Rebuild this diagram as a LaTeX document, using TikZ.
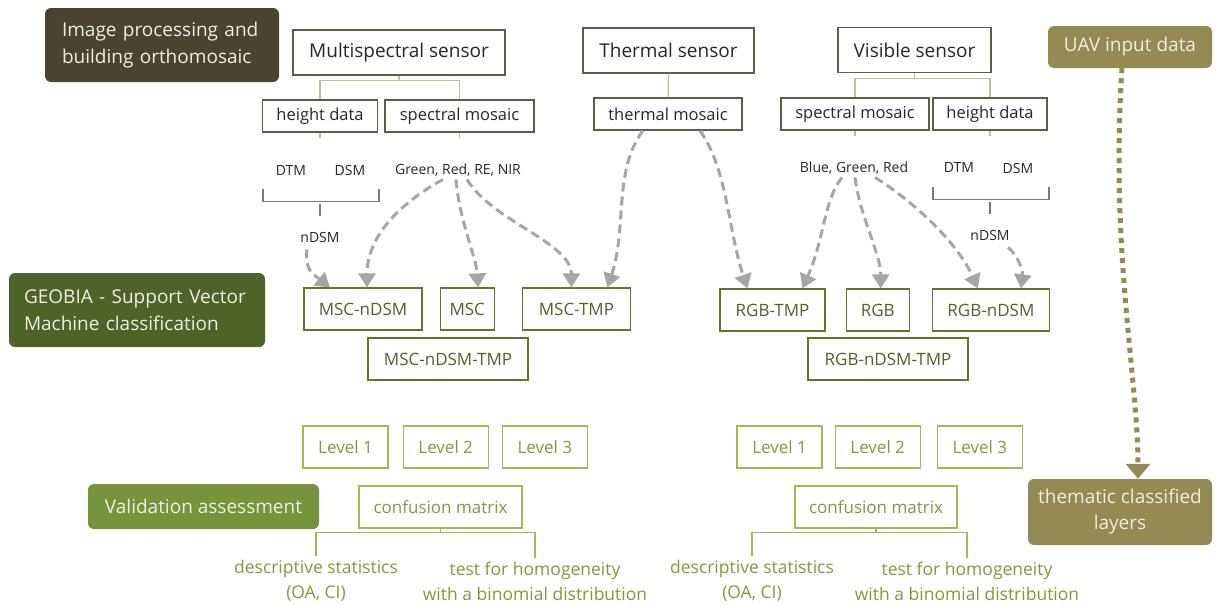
\documentclass[tikz,border=0pt]{standalone}
\usepackage{fontspec}
\setmainfont{Open Sans}
\usetikzlibrary{arrows.meta, positioning}

\definecolor{darkbrown}{HTML}{4A4330}
\definecolor{geobiagreen}{HTML}{4F6228}
\definecolor{validgreen}{HTML}{77933C}
\definecolor{uavtan}{HTML}{948A54}
\definecolor{headtext}{HTML}{EEEEE4}
\definecolor{boxgray}{HTML}{5E5B47}
\definecolor{linetan}{HTML}{C4BD97}
\definecolor{mscgreen}{HTML}{5F7530}
\definecolor{msctext}{HTML}{4F6228}
\definecolor{levelgreen}{HTML}{9BBB59}
\definecolor{leveltext}{HTML}{7F9A3C}
\definecolor{arrowgray}{HTML}{A6A6A6}

\begin{document}
\begin{tikzpicture}[x=1pt,y=-1pt]
\useasboundingbox (0,0) rectangle (1220,605);
% Shapes used in the flow chart
\tikzstyle{head_box} = [rectangle, rounded corners=6pt, inner sep=0pt, text=headtext, font=\fontsize{19}{27}\selectfont]
\tikzstyle{sensor_box} = [rectangle, draw=boxgray, line width=1.2pt, inner sep=0pt, minimum height=45pt, text=black!85, font=\fontsize{19}{24}\selectfont]
\tikzstyle{data_box} = [rectangle, draw=boxgray, line width=1.2pt, inner sep=0pt, minimum height=32pt, text=black!85, font=\fontsize{16.5}{20}\selectfont]
\tikzstyle{band_text} = [inner sep=3pt, text=black!85, font=\fontsize{14}{17}\selectfont]
\tikzstyle{msc_box} = [rectangle, draw=mscgreen, line width=1.2pt, inner sep=0pt, minimum height=42pt, text=msctext, font=\fontsize{17}{20}\selectfont]
\tikzstyle{level_box} = [rectangle, draw=levelgreen, line width=1.2pt, inner sep=0pt, minimum width=85pt, minimum height=42pt, text=leveltext, font=\fontsize{17}{20}\selectfont]
\tikzstyle{result_text} = [inner sep=4pt, align=center, text=leveltext, font=\fontsize{17.5}{25}\selectfont]
\tikzstyle{tan_line} = [draw=linetan, line width=1.2pt]
\tikzstyle{gray_line} = [draw=boxgray!80, line width=1.2pt]
\tikzstyle{green_line} = [draw=levelgreen, line width=1.2pt]
\tikzstyle{dash_arrow} = [draw=arrowgray, line width=3pt, dash pattern=on 9pt off 5pt, -{Triangle[length=14pt,width=17pt]}]
\tikzstyle{dot_arrow} = [draw=uavtan, line width=5pt, dash pattern=on 5pt off 5pt, -{Triangle[length=15pt,width=24pt]}]

% Headings on the left and right
\node (imgproc) [head_box, fill=darkbrown, minimum width=234pt, minimum height=74pt, text width=200pt, align=left] at (162,45) {Image processing and\\building orthomosaic};
\node (geobia) [head_box, fill=geobiagreen, minimum width=256pt, minimum height=74pt, text width=226pt, align=left] at (137,310) {GEOBIA - Support Vector\\Machine classification};
\node (validation) [head_box, fill=validgreen, minimum width=231pt, minimum height=45pt] at (203.5,506.5) {Validation assessment};
\node (uav) [head_box, fill=uavtan, minimum width=164pt, minimum height=42pt] at (1130,47) {UAV input data};
\node (thematic) [head_box, fill=uavtan, minimum width=184pt, minimum height=66pt, align=center, font=\fontsize{19}{26}\selectfont] at (1120,512) {thematic classified\\layers};

% Sensors and mosaics
\node (multi) [sensor_box, minimum width=212pt] at (399,52.5) {Multispectral sensor};
\node (thermal) [sensor_box, minimum width=171pt] at (668.5,50.5) {Thermal sensor};
\node (visible) [sensor_box, minimum width=153pt] at (914.5,50) {Visible sensor};

\node (height_ms) [data_box, minimum width=115pt] at (320,116) {height data};
\node (spectral_ms) [data_box, minimum width=149pt] at (459.5,116) {spectral mosaic};
\node (thermal_mos) [data_box, minimum width=148pt] at (668,114) {thermal mosaic};
\node (spectral_vis) [data_box, minimum width=148pt] at (855,114) {spectral mosaic};
\node (height_vis) [data_box, minimum width=114pt] at (990,114) {height data};

\node (dtm_ms) [band_text] at (291,170) {DTM};
\node (dsm_ms) [band_text] at (350,170) {DSM};
\node (bands_ms) [band_text] at (458,170) {Green, Red, RE, NIR};
\node (ndsm_ms) [band_text] at (320,237) {nDSM};
\node (bands_vis) [band_text] at (854,168) {Blue, Green, Red};
\node (dtm_vis) [band_text] at (959,168) {DTM};
\node (dsm_vis) [band_text] at (1018,168) {DSM};
\node (ndsm_vis) [band_text] at (990,235) {nDSM};

% Combinations for classification
\node (msc_ndsm) [msc_box, minimum width=118pt] at (363,309) {MSC-nDSM};
\node (msc) [msc_box, minimum width=54pt, right=17pt of msc_ndsm] {MSC};
\node (msc_tmp) [msc_box, minimum width=108pt, right=27pt of msc] {MSC-TMP};
\node (msc_ndsm_tmp) [msc_box, minimum width=160pt] at (448,359) {MSC-nDSM-TMP};
\node (rgb_tmp) [msc_box, minimum width=105pt] at (772.5,310) {RGB-TMP};
\node (rgb) [msc_box, minimum width=63pt, right=20pt of rgb_tmp] {RGB};
\node (rgb_ndsm) [msc_box, minimum width=117pt, right=22pt of rgb] {RGB-nDSM};
\node (rgb_ndsm_tmp) [msc_box, minimum width=160pt] at (888,359) {RGB-nDSM-TMP};

% Levels and validation
\node (level1_ms) [level_box] at (345.5,447) {Level 1};
\node (level2_ms) [level_box, right=14pt of level1_ms] {Level 2};
\node (level3_ms) [level_box, right=13pt of level2_ms] {Level 3};
\node (level1_vis) [level_box] at (779.5,447) {Level 1};
\node (level2_vis) [level_box, right=12pt of level1_vis] {Level 2};
\node (level3_vis) [level_box, right=16pt of level2_vis] {Level 3};

\node (cm_ms) [level_box, minimum width=163pt] at (440.5,507) {confusion matrix};
\node (cm_vis) [level_box, minimum width=162pt] at (876,507) {confusion matrix};

\node (desc_ms) [result_text] at (316,581) {descriptive statistics\\(OA, CI)};
\node (test_ms) [result_text] at (535,581) {test for homogeneity\\with a binomial distribution};
\node (desc_vis) [result_text] at (752,581) {descriptive statistics\\(OA, CI)};
\node (test_vis) [result_text] at (967,581) {test for homogeneity\\with a binomial distribution};

% Tree lines
\draw [tan_line] (multi.south) -- ++(0,5) coordinate (multi_split);
\draw [tan_line] (height_ms.north) |- (multi_split) -| (spectral_ms.north);
\draw [tan_line] (thermal) -- (thermal_mos);
\draw [tan_line] (visible.south) -- ++(0,5) coordinate (visible_split);
\draw [tan_line] (spectral_vis.north) |- (visible_split) -| (height_vis.north);
\draw [tan_line] (height_ms.south) -- ++(0,5);
\draw [tan_line] (spectral_ms.south) -- ++(0,5);
\draw [tan_line] (spectral_vis.south) -- ++(0,5);
\draw [tan_line] (height_vis.south) -- ++(0,5);

% Brackets for nDSM
\draw [gray_line] ([xshift=-28pt,yshift=-11pt]dtm_ms.south) -- ++(0,12) -| ([xshift=29pt,yshift=-11pt]dsm_ms.south);
\draw [gray_line] ([yshift=13pt]ndsm_ms.north) -- ++(0,-12);
\draw [gray_line] ([xshift=-26pt,yshift=-11pt]dtm_vis.south) -- ++(0,12) -| ([xshift=31pt,yshift=-11pt]dsm_vis.south);
\draw [gray_line] ([yshift=13pt]ndsm_vis.north) -- ++(0,-12);

% Dashed arrows into the combinations
\draw [dash_arrow] ([xshift=-13pt,yshift=-4pt]ndsm_ms.south) .. controls +(-3,22) and +(-15,-12) .. ([xshift=-33pt]msc_ndsm.north);
\draw [dash_arrow] ([xshift=-15pt]bands_ms.south) .. controls +(-45,25) and +(0,-50) .. ([xshift=4pt]msc_ndsm.north);
\draw [dash_arrow] ([xshift=-2pt]bands_ms.south) .. controls +(3,40) and +(-2,-30) .. ([xshift=11pt]msc.north);
\draw [dash_arrow] ([xshift=9pt]bands_ms.south) .. controls +(25,42) and +(0,-45) .. ([xshift=-5pt]msc_tmp.north);
\draw [dash_arrow] ([xshift=-25pt]thermal_mos.south) .. controls +(-30,40) and +(20,-60) .. ([xshift=31pt]msc_tmp.north);
\draw [dash_arrow] ([xshift=32pt]thermal_mos.south) .. controls +(28,40) and +(-20,-60) .. ([xshift=-25pt]rgb_tmp.north);
\draw [dash_arrow] ([xshift=-12pt]bands_vis.south) .. controls +(-18,22) and +(22,-50) .. ([xshift=30pt]rgb_tmp.north);
\draw [dash_arrow] ([xshift=1pt]bands_vis.south) .. controls +(5,40) and +(0,-35) .. ([xshift=3pt]rgb.north);
\draw [dash_arrow] ([xshift=21pt]bands_vis.south) .. controls +(40,25) and +(-20,-45) .. ([xshift=-13pt]rgb_ndsm.north);
\draw [dash_arrow] ([xshift=18pt,yshift=-4pt]ndsm_vis.south) .. controls +(12,10) and +(2,-15) .. ([xshift=30pt]rgb_ndsm.north);

% Validation lines
\draw [green_line] (cm_ms.south) -- ++(0,4) coordinate (cm_ms_split);
\draw [green_line] (desc_ms.north) |- (cm_ms_split) -| (test_ms.north);
\draw [green_line] (cm_vis.south) -- ++(0,4) coordinate (cm_vis_split);
\draw [green_line] (desc_vis.north) |- (cm_vis_split) -| (test_vis.north);

% From input data to classified layers
\draw [dot_arrow] ([xshift=-8pt]uav.south) .. controls +(-12,180) and +(0,-100) .. ([xshift=18pt]thematic.north);
\end{tikzpicture}
\end{document}
